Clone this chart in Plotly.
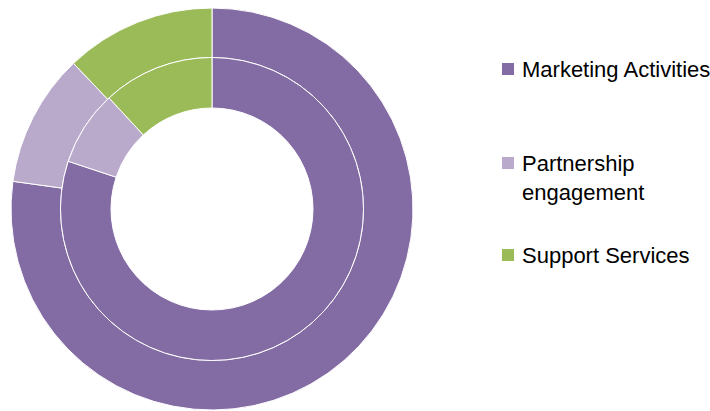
import plotly.graph_objects as go

categories = ["Marketing Activities", "Partnership engagement", "Support Services"]
legend_text = ["Marketing Activities", "Partnership<br>engagement", "Support Services"]
outer_values = [77.2, 10.7, 12.1]
inner_values = [80.1, 8.0, 11.9]
colors = ["#836BA4", "#B9AACB", "#9BBB59"]

W, H = 710, 411
cx, cy = 212, 209
r_out, r_mid, r_hole = 201, 151.5, 101

def dom(r):
    return dict(x=[(cx - r) / W, (cx + r) / W],
                y=[(H - (cy + r)) / H, (H - (cy - r)) / H])

fig = go.Figure()
fig.add_trace(go.Pie(
    labels=categories, values=outer_values, sort=False, direction="clockwise",
    rotation=0, hole=r_mid / r_out, domain=dom(r_out),
    marker=dict(colors=colors, line=dict(color="white", width=1)),
    textinfo="none", hoverinfo="label+value", showlegend=False,
))
fig.add_trace(go.Pie(
    labels=categories, values=inner_values, sort=False, direction="clockwise",
    rotation=0, hole=r_hole / r_mid, domain=dom(r_mid),
    marker=dict(colors=colors, line=dict(color="white", width=1)),
    textinfo="none", hoverinfo="label+value", showlegend=False,
))

# legend drawn manually
sq_top = [63, 157, 249]
text_y = [69, 178, 255]
shapes = []
annotations = []
for i, lab in enumerate(legend_text):
    shapes.append(dict(type="rect", xref="paper", yref="paper",
                       x0=502 / W, x1=514 / W,
                       y0=(H - sq_top[i] - 12) / H, y1=(H - sq_top[i]) / H,
                       fillcolor=colors[i], line=dict(width=0)))
    annotations.append(dict(text=lab, xref="paper", yref="paper",
                            x=520 / W, y=(H - text_y[i]) / H,
                            xanchor="left", yanchor="middle", showarrow=False,
                            align="left",
                            font=dict(family="Liberation Sans, Arial", size=22, color="#000000")))

fig.update_layout(
    width=W, height=H, margin=dict(l=0, r=0, t=0, b=0),
    paper_bgcolor="white", plot_bgcolor="white",
    shapes=shapes, annotations=annotations,
)
fig.write_html("out.html")
